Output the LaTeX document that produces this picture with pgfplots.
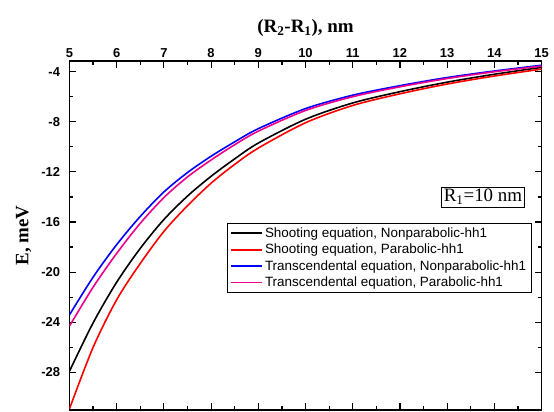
\documentclass[border=0pt]{standalone}
\usepackage{fontspec}
\setmainfont{Liberation Serif}
\setsansfont{Liberation Sans}
\usepackage{pgfplots}
\pgfplotsset{compat=1.18}
\begin{document}
\begin{tikzpicture}
\begin{axis}[
  scale only axis,
  width=472bp, height=349bp,
  xmin=5, xmax=15, ymin=-31, ymax=-3.15,
  xtick={5,6,...,15},
  xticklabels={5,6,7,8,9,10,11,12,13,14,15},
  minor x tick num=1,
  ytick={-28,-24,-20,-16,-12,-8,-4},
  yticklabels={-28,-24,-20,-16,-12,-8,-4},
  minor y tick num=1,
  xticklabel pos=upper,
  tick align=inside,
  major tick length=7bp, minor tick length=4bp,
  every tick/.style={black, line width=1.2bp},
  axis line style={line width=1.5bp},
  tick label style={font=\sffamily\bfseries\fontsize{13}{15}\selectfont},
  yticklabel style={xshift=-6bp},
  label style={font=\bfseries\fontsize{19}{22}\selectfont},
  xlabel={(R\textsubscript{2}-R\textsubscript{1}), nm},
  xlabel style={yshift=5bp},
  ylabel={E, meV},
  ylabel style={yshift=3bp},
  legend style={at={(rel axis cs:0.979,0.535)}, anchor=north east,
    draw=black, line width=0.8bp, font=\sffamily\fontsize{13.5}{15}\selectfont,
    inner xsep=3bp, inner ysep=2bp, row sep=1.2bp},
  legend cell align=left,
  legend image code/.code={\draw[#1, line width=1.8bp] (0bp,0bp) -- (31bp,0bp);},
  every axis plot/.append style={line width=1.6bp, smooth},
]
\addplot[black] coordinates {
(5,-27.9) (5.5,-24.05) (6,-20.8) (6.5,-18.1) (7,-15.8) (7.5,-13.93) (8,-12.35)
(8.5,-10.96) (9,-9.7) (10,-7.8) (11,-6.5) (12,-5.6) (13,-4.84) (14,-4.21) (15,-3.66)};
\addlegendentry{Shooting equation, Nonparabolic-hh1}
\addplot[red] coordinates {
(5,-30.9) (5.5,-26.0) (6,-22.2) (6.5,-19.3) (7,-16.75) (7.5,-14.7) (8,-12.9)
(8.5,-11.4) (9,-10.1) (10,-8.08) (11,-6.7) (12,-5.77) (13,-4.99) (14,-4.35) (15,-3.8)};
\addlegendentry{Shooting equation, Parabolic-hh1}
\addplot[blue] coordinates {
(5,-23.4) (5.5,-20.4) (6,-17.8) (6.5,-15.55) (7,-13.6) (7.5,-12.05) (8,-10.75)
(8.5,-9.6) (9,-8.55) (10,-6.95) (11,-5.88) (12,-5.12) (13,-4.47) (14,-3.95) (15,-3.49)};
\addlegendentry{Transcendental equation, Nonparabolic-hh1}
\addplot[magenta] coordinates {
(5,-24.3) (5.5,-21.2) (6,-18.5) (6.5,-16.1) (7,-14.05) (7.5,-12.4) (8,-11.05)
(8.5,-9.83) (9,-8.75) (10,-7.1) (11,-6.0) (12,-5.21) (13,-4.55) (14,-4.01) (15,-3.56)};
\addlegendentry{Transcendental equation, Parabolic-hh1}
\node[draw, line width=0.8bp, font=\rmfamily\fontsize{19}{21}\selectfont, inner sep=2.5bp]
  at (rel axis cs:0.876,0.61) {R\textsubscript{1}=10 nm};
\end{axis}
\pgfresetboundingbox
\useasboundingbox ([xshift=-69.5bp,yshift=-2bp]current axis.south west)
  rectangle ([xshift=12.5bp,yshift=61bp]current axis.north east);
\end{tikzpicture}
\end{document}
